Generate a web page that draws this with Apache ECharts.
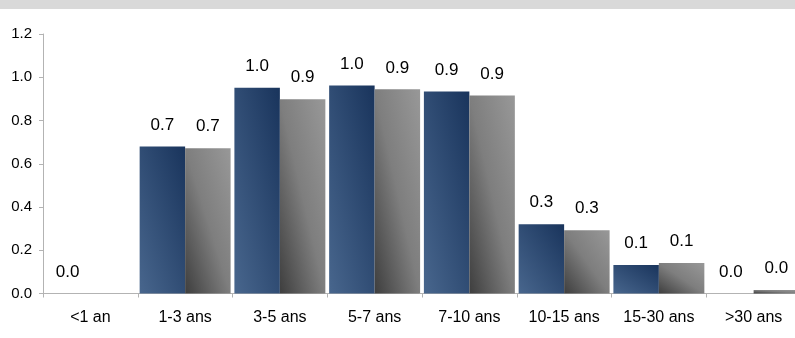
<!DOCTYPE html>
<html>
<head>
<meta charset="utf-8">
<script src="https://cdn.jsdelivr.net/npm/echarts@6/dist/echarts.min.js"></script>
<style>
  html, body { margin: 0; padding: 0; background: #fff; }
  #barChart { width: 795px; height: 338px; }
</style>
</head>
<body>
<div id="barChart"></div>
<script>
// maturity buckets
var categories = ['<1 an', '1-3 ans', '3-5 ans', '5-7 ans', '7-10 ans', '10-15 ans', '15-30 ans', '>30 ans'];
// values
var blueValues = [0, 0.68, 0.952, 0.962, 0.934, 0.32, 0.132, 0];
var grayValues = [null, 0.672, 0.898, 0.944, 0.916, 0.293, 0.141, 0.016];
var yTicks = [0, 0.2, 0.4, 0.6, 0.8, 1.0, 1.2];

var blueStops = [
    { offset: 0, color: '#48668d' },
    { offset: 1, color: '#19345c' }
];
var grayStops = [
    { offset: 0, color: '#3e3e3e' },
    { offset: 0.5, color: '#7e7e7e' },
    { offset: 1, color: '#989898' }
];

var gridLeft = 43, gridRight = -6, gridTop = 34, gridBottom = 44.5;
var plotH = 338 - gridTop - gridBottom;
var barW = (795 - gridLeft - gridRight) / categories.length * 0.96 / 2;

// diagonal gradient that stretches with the bar (bottom-left -> top-right),
// the way office charts draw it
function diagGradient(value, stops) {
    var h = value / yTicks[yTicks.length - 1] * plotH;
    if (!(h > 0)) return stops[0].color;
    var d = h * h + barW * barW;
    return new echarts.graphic.LinearGradient(0, 1, 2 * h * h / d, (h * h - barW * barW) / d, stops);
}

function toItems(values, stops) {
    return values.map(function (v) {
        if (v == null) return null;
        return { value: v, itemStyle: { color: diagGradient(v, stops) } };
    });
}

var barChart = echarts.init(document.getElementById('barChart'));

var valueLabel = {
    show: true,
    position: 'top',
    distance: 13,
    fontFamily: 'Liberation Sans, Arial',
    fontSize: 17,
    color: '#000',
    formatter: function (p) {
        return p.value == null ? '' : p.value.toFixed(1);
    }
};

var option = {
    animation: false,
    backgroundColor: '#fff',
    graphic: [{
        type: 'rect',
        left: 0,
        top: 0,
        shape: { width: 795, height: 9 },
        style: { fill: '#d9d9d9' }
    }],
    grid: {
        left: gridLeft,
        right: gridRight,
        top: gridTop,
        bottom: gridBottom,
        outerBoundsMode: 'none'
    },
    xAxis: {
        type: 'category',
        data: categories,
        axisLine: { lineStyle: { color: '#b3b3b3', width: 1 } },
        axisTick: { show: true, length: 4, lineStyle: { color: '#b3b3b3' } },
        axisLabel: {
            margin: 16,
            fontFamily: 'Liberation Sans, Arial',
            fontSize: 16,
            color: '#000',
            interval: 0
        }
    },
    yAxis: {
        type: 'value',
        min: yTicks[0],
        max: yTicks[yTicks.length - 1],
        interval: 0.2,
        splitLine: { show: false },
        axisLine: { show: true, lineStyle: { color: '#b3b3b3', width: 1 } },
        axisTick: { show: true, length: 4, lineStyle: { color: '#b3b3b3' } },
        axisLabel: {
            margin: 11,
            fontFamily: 'Liberation Sans, Arial',
            fontSize: 15,
            color: '#000',
            formatter: function (v) { return v.toFixed(1); }
        }
    },
    series: [{
        name: 'A',
        type: 'bar',
        data: toItems(blueValues, blueStops),
        barGap: '0%',
        barCategoryGap: '4%',
        label: valueLabel
    }, {
        name: 'B',
        type: 'bar',
        data: toItems(grayValues, grayStops),
        label: valueLabel
    }]
};

barChart.setOption(option);
</script>
</body>
</html>
